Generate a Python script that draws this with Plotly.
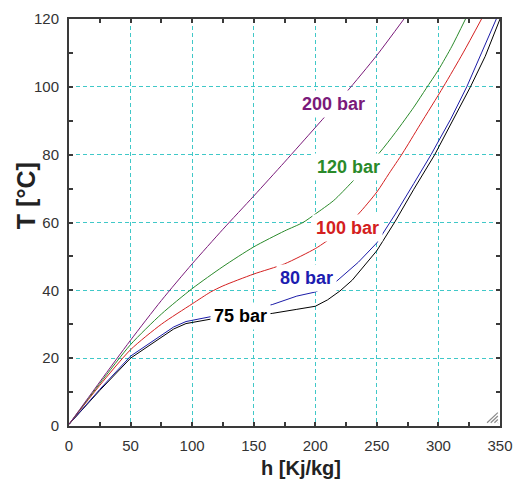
import plotly.graph_objects as go

# Isobars of CO2: temperature versus specific enthalpy
h_75 = [0, 25, 50, 65, 75, 85, 95, 105, 115, 140, 165, 185, 200, 210, 220, 230, 238, 250, 265, 280, 297, 313, 326, 338, 350]
T_75 = [0.5, 10.5, 20, 23.8, 26.2, 28.6, 30.2, 30.9, 31.5, 32.3, 33.2, 34.4, 35.3, 37.2, 39.8, 43, 46.4, 51.7, 60.4, 69.8, 80, 91, 100, 109, 120]

h_80 = [0, 25, 50, 65, 75, 85, 95, 105, 115, 140, 165, 185, 200, 217, 235, 250, 265, 280, 294, 310, 323, 335, 347]
T_80 = [0.5, 10.8, 20.6, 24.3, 26.8, 29.2, 30.8, 31.5, 32.2, 34, 35.8, 38.3, 39.5, 42.6, 48.3, 54, 62.5, 71.5, 80, 90.5, 100, 110, 120]

h_100 = [0, 25, 50, 75, 100, 115, 125, 150, 175, 200, 208, 220, 235, 250, 260, 271, 285, 304, 320, 335]
T_100 = [0.5, 12, 22.5, 30, 36, 39.5, 41.3, 44.8, 47.8, 52.3, 54.2, 57.3, 62.5, 69, 74.5, 80.5, 88.8, 100, 110, 120]

h_120 = [0, 25, 50, 75, 100, 125, 150, 175, 190, 200, 215, 230, 252, 265, 280, 290, 300, 311, 322]
T_120 = [0.5, 12.5, 24, 33, 40.5, 47, 52.8, 57.5, 60, 62.5, 66.5, 72, 80.5, 86.5, 94, 99.5, 105, 112, 120]

h_200 = [0, 25, 50, 75, 100, 125, 150, 175, 200, 225, 250, 272]
T_200 = [0.5, 13, 25.3, 37, 47.8, 58, 67.8, 77.8, 88, 98.3, 109.3, 120]

series = [
    ("75 bar", h_75, T_75, "#000000", "linear"),
    ("80 bar", h_80, T_80, "#1c1ca8", "linear"),
    ("100 bar", h_100, T_100, "#d42020", "spline"),
    ("120 bar", h_120, T_120, "#2a8a2a", "spline"),
    ("200 bar", h_200, T_200, "#7a1a7a", "spline"),
]

# Label positions (h, T) and text colours for each isobar
label_pos = {
    "75 bar": (139.3, 32.3, "#000000"),
    "80 bar": (192.5, 43.6, "#1c1cb0"),
    "100 bar": (226.5, 58.5, "#d42020"),
    "120 bar": (227.0, 76.5, "#2a8a2a"),
    "200 bar": (214.6, 95.0, "#7a1a7a"),
}

fig = go.Figure()
for name, h, T, color, shape in series:
    fig.add_trace(go.Scatter(x=h, y=T, mode="lines", name=name,
                             line=dict(color=color, width=1, shape=shape, smoothing=0.7),
                             showlegend=False))

for name, (hx, ty, col) in label_pos.items():
    fig.add_annotation(x=hx, y=ty, xref="x", yref="y", text=name, showarrow=False,
                       bgcolor="white", borderpad=3,
                       font=dict(family="Liberation Sans, Arial", size=18, color=col, weight="bold"))

font_tick = dict(family="Liberation Sans, Arial", size=15, color="#333333")
grid_color = "#40c8c8"
axis_color = "#3a3a3a"

fig.update_xaxes(range=[0, 350], dtick=50, tick0=0, showgrid=True, gridcolor=grid_color,
                 griddash="4px,3px", gridwidth=1, zeroline=False,
                 showline=True, linecolor=axis_color, linewidth=2, mirror="allticks",
                 ticks="inside", ticklen=4, tickcolor=axis_color, tickwidth=1.5,
                 tickfont=font_tick, ticklabelstandoff=5,
                 minor=dict(dtick=25, ticks="inside", ticklen=4, tickcolor=axis_color,
                            tickwidth=1.5, showgrid=False))
fig.update_yaxes(range=[0, 120], dtick=20, tick0=0, showgrid=True, gridcolor=grid_color,
                 griddash="4px,3px", gridwidth=1, zeroline=False,
                 showline=True, linecolor=axis_color, linewidth=2, mirror="allticks",
                 ticks="inside", ticklen=4, tickcolor=axis_color, tickwidth=1.5,
                 tickfont=font_tick, ticklabelstandoff=5,
                 minor=dict(dtick=10, ticks="inside", ticklen=4, tickcolor=axis_color,
                            tickwidth=1.5, showgrid=False))

# Axis titles
fig.add_annotation(x=0.539, y=-0.104, xref="paper", yref="paper", text="h [Kj/kg]",
                   showarrow=False, xanchor="center", yanchor="middle",
                   font=dict(family="Liberation Sans, Arial", size=20, color="#222222", weight="bold"))
fig.add_annotation(x=-0.1, y=0.567, xref="paper", yref="paper", text="T [°C]",
                   showarrow=False, textangle=-90, xanchor="center", yanchor="middle",
                   font=dict(family="Liberation Sans, Arial", size=25, color="#222222", weight="bold"))

# Resize grip in the lower right corner of the plot frame
for k in range(4):
    off = 0.0085 * k
    fig.add_shape(type="line", xref="paper", yref="paper",
                  x0=0.97 + off, y0=0.008, x1=0.995, y1=0.033 - off,
                  line=dict(color="#8a8a8a", width=1.2))

fig.update_layout(width=523, height=484, margin=dict(l=69, r=16, t=10, b=58),
                  plot_bgcolor="white", paper_bgcolor="white")

fig.write_html("out.html")
